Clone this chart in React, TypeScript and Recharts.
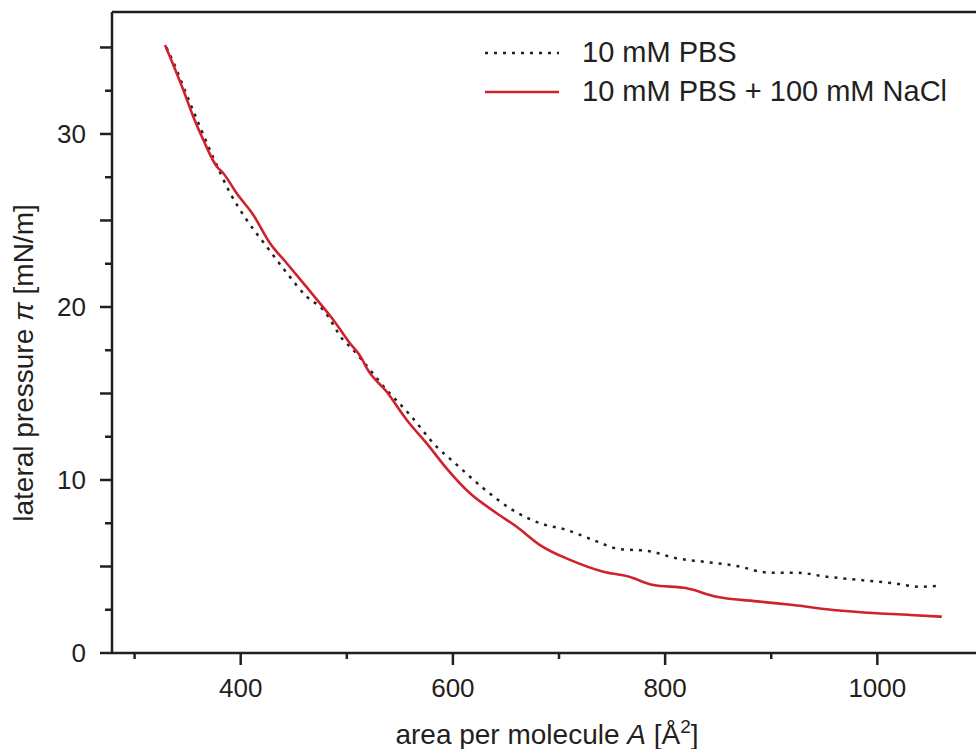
import { LineChart, Line, XAxis, YAxis, Legend, ReferenceLine } from "recharts";

// surface pressure isotherms
const areaPBS = [
  330, 333.4, 352.2, 373.9, 390.0, 405.7, 424.5, 443.4, 462.2, 477.9, 496.7, 503.0, 537.6, 559.6,
  584.7, 600.4, 628.7, 653.8, 682.1, 707.3, 732.3, 757.5, 782.7, 810.9, 836.0, 867.5, 898.9, 924.0,
  952.3, 983.7, 1015.1, 1040.2, 1060.7,
];
const piPBS = [
  35.0, 34.57, 31.79, 28.67, 26.59, 25.03, 23.49, 21.97, 20.6, 19.83, 18.09, 17.71, 15.2, 13.76,
  11.92, 11.06, 9.52, 8.36, 7.5, 7.11, 6.53, 6.0, 5.91, 5.47, 5.28, 5.03, 4.64, 4.64, 4.41, 4.22,
  4.03, 3.83, 3.89,
];

const areaNaCl = [
  328.7, 345.9, 355.3, 364.8, 377.4, 383.6, 396.2, 411.9, 427.6, 443.4, 459.0, 474.7, 487.3, 503.0,
  514.0, 518.8, 537.6, 556.5, 575.3, 594.2, 616.1, 641.3, 660.1, 682.1, 710.4, 741.8, 765.3, 788.9,
  820.4, 848.6, 889.4, 920.8, 958.5, 999.4, 1030.8, 1060.7,
];
const piNaCl = [
  35.14, 32.54, 31.0, 29.65, 28.12, 27.73, 26.57, 25.32, 23.68, 22.53, 21.38, 20.21, 19.25, 17.9,
  17.03, 16.46, 15.1, 13.47, 12.12, 10.66, 9.23, 8.08, 7.3, 6.24, 5.38, 4.7, 4.42, 3.93, 3.74, 3.25,
  2.97, 2.77, 2.49, 2.3, 2.2, 2.1,
];

const xTicks = [300, 400, 500, 600, 700, 800, 900, 1000];
const yTicks = [0, 2.5, 5, 7.5, 10, 12.5, 15, 17.5, 20, 22.5, 25, 27.5, 30, 32.5, 35];

const seriesNames = ["10 mM PBS", "10 mM PBS + 100 mM NaCl"];

const pbsData = areaPBS.map((a, i) => ({ area: a, pi: piPBS[i] }));
const naclData = areaNaCl.map((a, i) => ({ area: a, pi: piNaCl[i] }));

const X_DOMAIN = [278.7, 1093];
const Y_MAX = 37.05;

const FONT = '"Liberation Sans", Arial, Helvetica, sans-serif';
const INK = "#231f20";
const RED = "#d0222d";

function YTick(props: any) {
  const { x, y, payload } = props;
  const v = payload.value;
  const len = v % 5 === 0 ? 12 : 7;
  return (
    <g>
      <line x1={x - len} x2={x} y1={y} y2={y} stroke={INK} strokeWidth={2.5} />
      {v % 10 === 0 && (
        <text x={x - 26} y={y} dy="0.36em" textAnchor="end" fontSize={26} fill={INK} fontFamily={FONT}>
          {v}
        </text>
      )}
    </g>
  );
}

function XTick(props: any) {
  const { x, y, payload } = props;
  const v = payload.value;
  const len = v % 200 === 0 ? 12 : 6;
  return (
    <g>
      <line x1={x} x2={x} y1={y} y2={y + len} stroke={INK} strokeWidth={2.5} />
      {v % 200 === 0 && (
        <text x={x} y={y + 44} textAnchor="middle" fontSize={26} fill={INK} fontFamily={FONT}>
          {v}
        </text>
      )}
    </g>
  );
}

function LegendBox() {
  const row = { display: "flex", alignItems: "center", height: 39 } as const;
  return (
    <div style={{ fontFamily: FONT, fontSize: 29, color: INK, lineHeight: "39px" }}>
      <div style={row}>
        <svg width={74} height={6}>
          <line x1={0} x2={74} y1={3} y2={3} stroke={INK} strokeWidth={2.5} strokeDasharray="3 6" />
        </svg>
        <span style={{ marginLeft: 23 }}>{seriesNames[0]}</span>
      </div>
      <div style={row}>
        <svg width={74} height={6}>
          <line x1={0} x2={74} y1={3} y2={3} stroke={RED} strokeWidth={2.5} />
        </svg>
        <span style={{ marginLeft: 23 }}>{seriesNames[1]}</span>
      </div>
    </div>
  );
}

export default function App() {
  return (
    <div style={{ position: "absolute", left: 0, top: 0, width: 976, height: 749, background: "#fff" }}>
      <LineChart width={976} height={749} margin={{ top: 12, right: 0, bottom: 0, left: 0 }}>
        <XAxis
          type="number"
          dataKey="area"
          domain={X_DOMAIN}
          allowDataOverflow
          ticks={xTicks}
          interval={0}
          height={96}
          tickSize={0}
          tickMargin={0}
          tickLine={false}
          tick={<XTick />}
          axisLine={{ stroke: INK, strokeWidth: 2.5 }}
        />
        <YAxis
          type="number"
          domain={[0, Y_MAX]}
          allowDataOverflow
          ticks={yTicks}
          interval={0}
          width={112}
          tickSize={0}
          tickMargin={0}
          tickLine={false}
          tick={<YTick />}
          axisLine={{ stroke: INK, strokeWidth: 2.5 }}
        />
        {/* frame line along the top of the plot */}
        <ReferenceLine y={Y_MAX} stroke={INK} strokeWidth={2.5} ifOverflow="extendDomain" />
        <Legend
          layout="vertical"
          align="center"
          verticalAlign="middle"
          content={<LegendBox />}
          wrapperStyle={{ left: 485, top: 33, width: "auto" }}
        />
        <Line
          data={pbsData}
          dataKey="pi"
          name={seriesNames[0]}
          type="monotone"
          stroke={INK}
          strokeWidth={2.5}
          strokeDasharray="3 6"
          dot={false}
          isAnimationActive={false}
        />
        <Line
          data={naclData}
          dataKey="pi"
          name={seriesNames[1]}
          type="monotone"
          stroke={RED}
          strokeWidth={2.6}
          dot={false}
          isAnimationActive={false}
        />
        <text
          transform="translate(33,363) rotate(-90)"
          textAnchor="middle"
          fontSize={28}
          fill={INK}
          fontFamily={FONT}
        >
          lateral pressure <tspan fontStyle="italic">π</tspan> [mN/m]
        </text>
        <text x={547} y={744} textAnchor="middle" fontSize={28} fill={INK} fontFamily={FONT}>
          area per molecule <tspan fontStyle="italic">A</tspan> [Å
          <tspan dy={-11} fontSize={19}>2</tspan>
          <tspan dy={11}>]</tspan>
        </text>
      </LineChart>
    </div>
  );
}
